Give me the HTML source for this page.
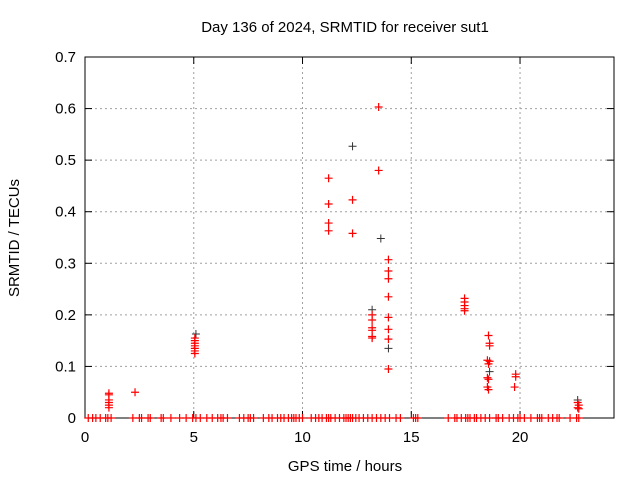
<!DOCTYPE html>
<html><head><meta charset="utf-8"><style>
body{margin:0;background:#fff}
svg{display:block;font-family:"Liberation Sans",sans-serif;font-size:15px}
</style></head><body>
<svg id="c" width="640" height="480" xmlns="http://www.w3.org/2000/svg">
<text x="345" y="32" text-anchor="middle">Day 136 of 2024, SRMTID for receiver sut1</text>
<text x="345" y="471" text-anchor="middle">GPS time / hours</text>
<text transform="translate(19,238) rotate(-90)" text-anchor="middle">SRMTID / TECUs</text>
<g id="grid"></g><g id="axes"></g><g id="marks"></g>
</svg>
<script>
const xTicks=[0,5,10,15,20];
const yTicks=[0,0.1,0.2,0.3,0.4,0.5,0.6,0.7];
const yTickLabels=["0","0.1","0.2","0.3","0.4","0.5","0.6","0.7"];
const redX=[1.1,1.1,1.1,1.1,1.1,1.1,2.3,5.05,5.05,5.05,5.05,5.05,5.05,5.05,11.2,11.2,11.2,11.2,12.3,12.3,13.5,13.5,13.2,13.2,13.2,13.2,13.2,13.2,13.95,13.95,13.95,13.95,13.95,13.95,13.95,13.95,17.45,17.45,17.45,17.45,17.45,18.55,18.6,18.6,18.5,18.6,18.55,18.5,18.55,18.5,18.55,19.8,19.8,19.75,22.65,22.7,22.65,22.7];
const redY=[0.048,0.045,0.035,0.03,0.025,0.02,0.05,0.155,0.15,0.145,0.14,0.135,0.13,0.125,0.465,0.415,0.378,0.363,0.423,0.358,0.603,0.48,0.2,0.19,0.175,0.17,0.158,0.155,0.307,0.285,0.27,0.235,0.195,0.172,0.153,0.095,0.232,0.225,0.218,0.212,0.208,0.16,0.145,0.14,0.112,0.11,0.105,0.078,0.075,0.06,0.055,0.085,0.08,0.06,0.03,0.025,0.02,0.018];
const blackX=[5.1,12.3,13.6,13.2,13.95,13.95,18.6,22.65];
const blackY=[0.163,0.527,0.348,0.21,0.195,0.135,0.09,0.035];
const zeroX=[0.15,0.35,0.5,0.7,0.95,1.05,1.2,2.2,2.5,2.6,2.9,3.0,3.5,3.6,3.95,4.35,4.65,4.95,5.1,5.3,5.6,5.85,6.1,6.25,6.35,6.55,7.1,7.3,7.5,7.6,7.75,8.2,8.45,8.6,8.85,9.0,9.15,9.35,9.5,9.6,9.7,9.85,10.0,10.4,10.6,10.75,10.9,11.1,11.2,11.3,11.5,11.7,11.9,12.0,12.1,12.2,12.3,12.45,12.6,12.8,13.0,13.2,13.4,13.6,13.8,14.0,14.3,14.5,15.1,15.2,15.3,16.7,17.0,17.1,17.3,17.5,17.6,17.7,17.9,18.0,18.2,18.4,18.6,18.9,19.0,19.2,19.5,19.7,19.9,20.0,20.2,20.5,20.8,20.9,21.0,21.3,21.5,21.7,21.8,22.3,22.6,22.7];
const L=85,R=614,T=57,B=418,XMAX=24.32,YMAX=0.7;
const X=h=>L+h/XMAX*(R-L), Y=v=>B-v/YMAX*(B-T);
const NS="http://www.w3.org/2000/svg";
function mk(tag,parent,attrs){const e=document.createElementNS(NS,tag);for(const k in attrs)e.setAttribute(k,attrs[k]);document.getElementById(parent).appendChild(e);return e;}
xTicks.forEach(t=>{
  const x=X(t);
  if(t>0){const g=mk('line','grid',{x1:x,x2:x,y1:T,y2:B,stroke:'#a0a0a0','stroke-dasharray':'2,3'});
  
  }
  mk('line','axes',{x1:x,x2:x,y1:B,y2:B-7,stroke:'#000'});
  mk('line','axes',{x1:x,x2:x,y1:T,y2:T+7,stroke:'#000'});
  const tx=mk('text','axes',{x:x,y:B+24,'text-anchor':'middle'});tx.textContent=t;
  
  
});
yTicks.forEach((t,i)=>{
  const y=Y(t);
  if(t>0&&t<0.7){const g=mk('line','grid',{x1:L,x2:R,y1:y,y2:y,stroke:'#a0a0a0','stroke-dasharray':'2,3'});
  
  }
  mk('line','axes',{x1:L,x2:L+7,y1:y,y2:y,stroke:'#000'});
  mk('line','axes',{x1:R,x2:R-7,y1:y,y2:y,stroke:'#000'});
  const tx=mk('text','axes',{x:L-9,y:y+5,'text-anchor':'end'});tx.textContent=yTickLabels[i];
  
  
});
const fr=mk('rect','axes',{x:L,y:T,width:R-L,height:B-T,fill:'none',stroke:'#000'});


function plus(x,y,c,w,name){const p=mk('path','marks',{d:`M${x-4} ${y}h8M${x} ${y-4}v8`,stroke:c,'stroke-width':w});
  
  }
blackX.forEach((h,i)=>plus(X(h),Y(blackY[i]),'#333',1,'black-point'));
zeroX.forEach(h=>plus(X(h),Y(0),'#f00',1.2,'zero-point'));
redX.forEach((h,i)=>plus(X(h),Y(redY[i]),'#f00',1.2,'red-point'));
</script>
</body></html>
